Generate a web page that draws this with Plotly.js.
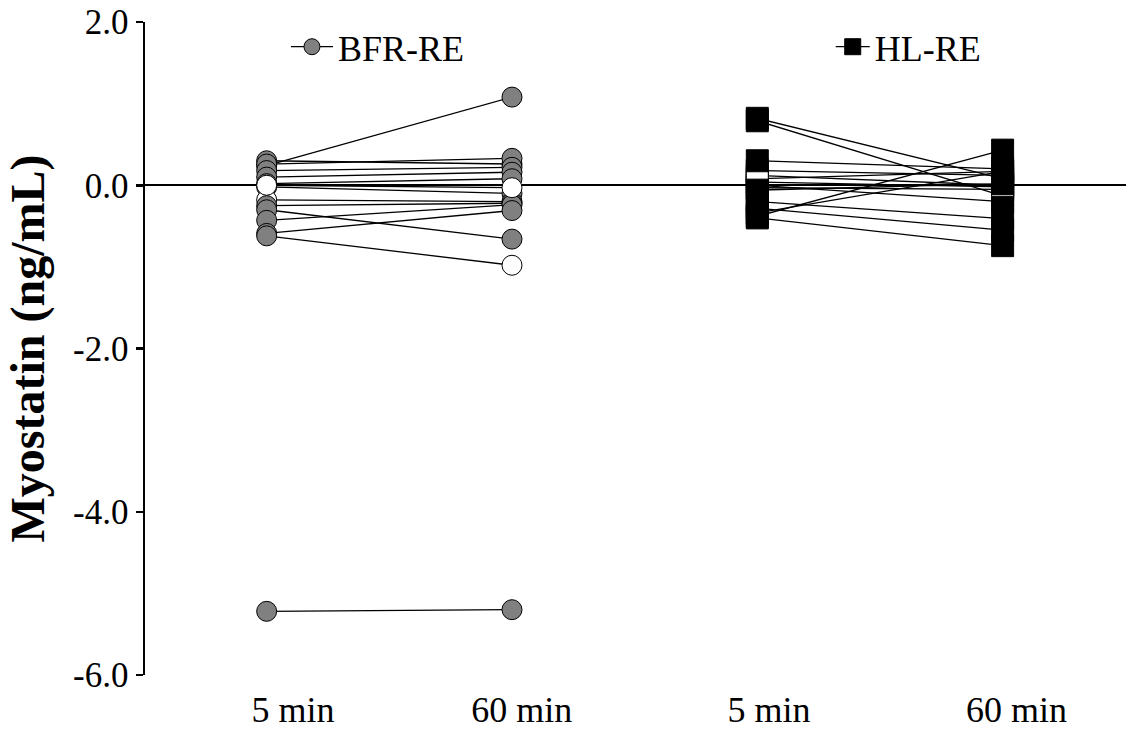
<!DOCTYPE html>
<html><head><meta charset="utf-8">
<script src="https://cdn.plot.ly/plotly-3.0.1.min.js"></script>
<style>html,body{margin:0;padding:0;background:#fff}</style>
</head><body><div id="chart" style="width:1126px;height:731px"></div>
<script>
// ---- data ----
const timeLabels = ['5 min', '60 min', '5 min', '60 min'];
const groupNames = ['BFR-RE', 'HL-RE'];
const yTickValues = [2, 0, -2, -4, -6];
const yTickLabels = ['2.0', '0.0', '-2.0', '-4.0', '-6.0'];

// BFR-RE: each subject 5 min -> 60 min (ng/mL)
const bfr5  = [0.24, 0.30, 0.26, 0.18, 0.10, 0.02, -0.02, -0.18, -0.25, -0.30, -0.43, -0.59, -0.62, 0.00, -5.22];
const bfr60 = [1.08, 0.26, 0.33, 0.22, 0.16, 0.08, -0.10, -0.20, -0.22, -0.66, -0.24, -0.31, -0.98, -0.03, -5.20];
const bfrHollow5  = [0,0,0,0,0,0,0,1,0,0,0,0,0,1,0];
const bfrHollow60 = [0,0,0,0,0,0,0,1,0,0,0,0,1,1,0];

// HL-RE: each subject 5 min -> 60 min (ng/mL)
const hl5  = [0.82, 0.79, 0.18, 0.08, 0.04, 0.00, -0.03, -0.20, -0.28, -0.34, -0.38, -0.40, 0.12, 0.30, -0.06];
const hl60 = [0.08, -0.13, 0.12, 0.17, -0.02, -0.20, -0.05, -0.41, -0.55, 0.17, 0.43, -0.74, 0.00, 0.20, 0.02];
const hlHollow5  = [0,0,0,0,0,0,0,0,0,0,0,0,1,0,0];
const hlHollow60 = [0,0,0,0,0,0,0,0,0,0,0,0,1,0,0];

// ---- drawing ----
const FONT = '"Liberation Serif", "Times New Roman", Times, serif';
const traces = [];

function addGroup(name, legendId, x0, v5, v60, h5, h60, symbol, fill, size) {
  for (let i = 0; i < v5.length; i++) {
    traces.push({
      type: 'scatter', mode: 'lines', x: [x0, x0 + 1], y: [v5[i], v60[i]],
      line: { color: '#000', width: 1.3 }, showlegend: false, hoverinfo: 'skip'
    });
  }
  const xs = [], ys = [], cs = [];
  for (let i = 0; i < v5.length; i++) {
    xs.push(x0, null); ys.push(v5[i], null); cs.push(h5[i] ? '#ffffff' : fill, fill);
  }
  for (let i = 0; i < v60.length; i++) {
    xs.push(x0 + 1, null); ys.push(v60[i], null); cs.push(h60[i] ? '#ffffff' : fill, fill);
  }
  traces.push({
    type: 'scatter', mode: 'lines+markers', name: name, legend: legendId, x: xs, y: ys,
    connectgaps: false,
    line: { color: '#000', width: 1.3 },
    marker: { symbol: symbol, size: size, color: cs, line: { color: '#000', width: 1 } },
    showlegend: true
  });
}

addGroup(groupNames[0], 'legend', 0, bfr5, bfr60, bfrHollow5, bfrHollow60, 'circle', '#808080', 20);
addGroup(groupNames[1], 'legend2', 2, hl5, hl60, hlHollow5, hlHollow60, 'square', '#000000', 22);

const legendBase = {
  orientation: 'h', xanchor: 'left', y: 0.962, yanchor: 'middle',
  font: { family: FONT, size: 36, color: '#000' },
  bgcolor: 'rgba(0,0,0,0)', borderwidth: 0
};

const layout = {
  width: 1126, height: 731,
  margin: { l: 145, r: 0, t: 22, b: 56, pad: 0 },
  paper_bgcolor: '#fff', plot_bgcolor: '#fff',
  font: { family: FONT, color: '#000' },
  showlegend: true,
  legend: Object.assign({}, legendBase, { x: 0.1437, itemwidth: 42 }),
  legend2: Object.assign({}, legendBase, { x: 0.699, itemwidth: 34 }),
  xaxis: {
    range: [-0.496, 3.503], showgrid: false, zeroline: false, showline: false,
    ticks: '', tickmode: 'array', tickvals: [0.107, 1.04, 2.048, 3.057], ticktext: timeLabels,
    tickfont: { family: FONT, size: 36, color: '#000' }, ticklabelstandoff: 10
  },
  yaxis: {
    range: [-6, 2], showgrid: false,
    zeroline: true, zerolinecolor: '#000', zerolinewidth: 2,
    showline: true, linecolor: '#000', linewidth: 2.5,
    ticks: 'outside', ticklen: 7, tickwidth: 2.5, tickcolor: '#000',
    tickmode: 'array', tickvals: yTickValues, ticktext: yTickLabels,
    tickfont: { family: FONT, size: 35, color: '#000' },
    title: { text: 'Myostatin (ng/mL)', standoff: 14,
             font: { family: FONT, size: 48, color: '#000', weight: 'bold' } }
  }
};

Plotly.newPlot('chart', traces, layout, { displayModeBar: false, staticPlot: true });
</script>
</body></html>
